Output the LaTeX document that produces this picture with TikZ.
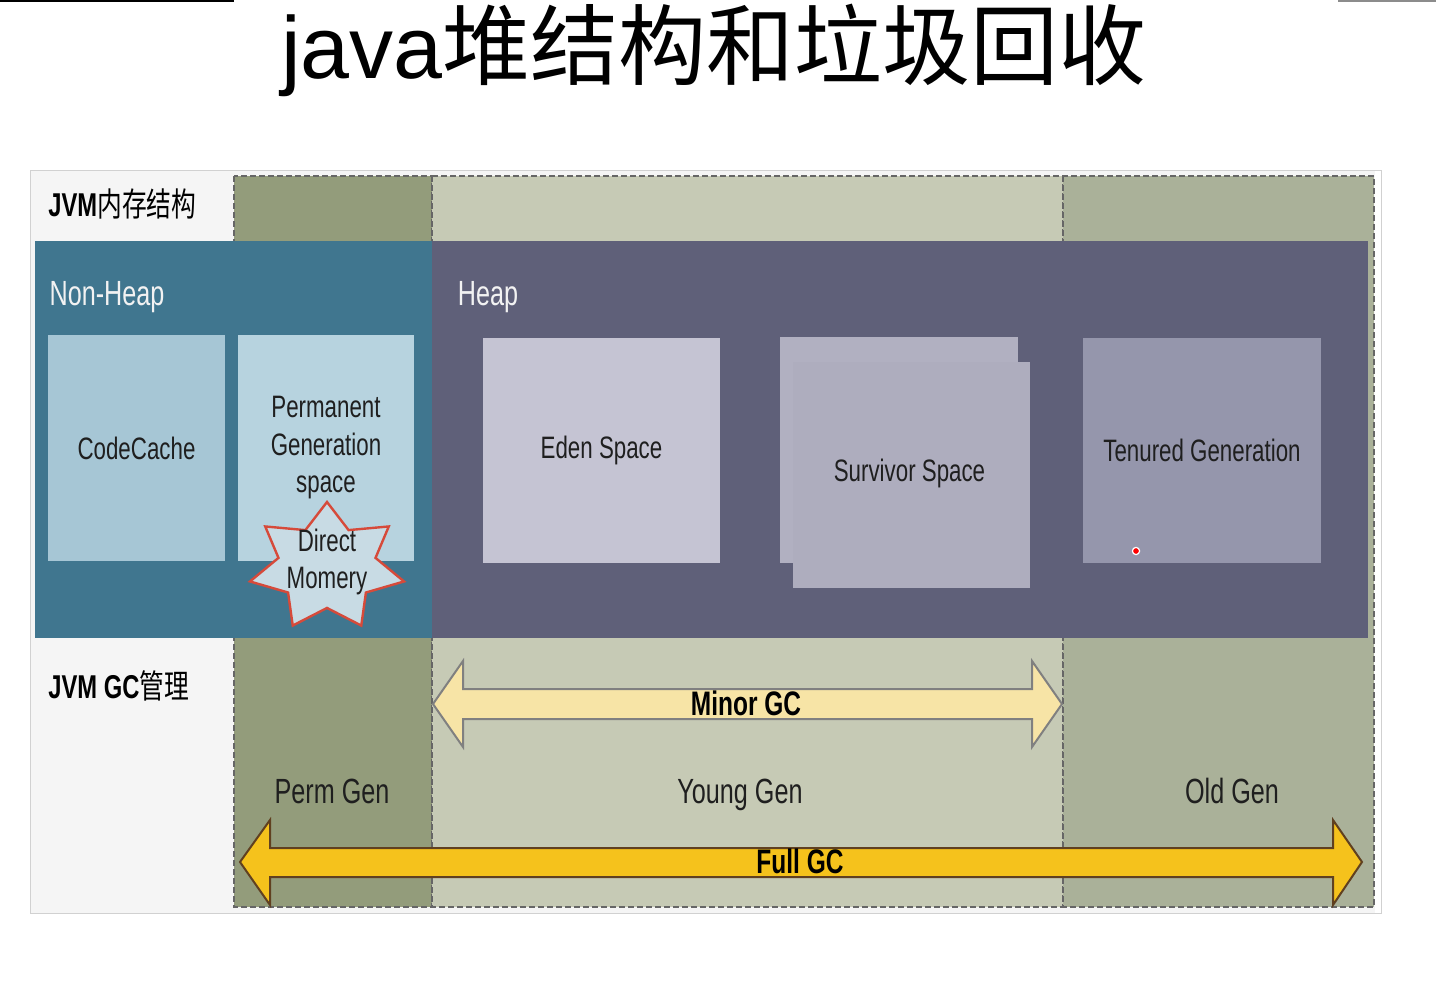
\documentclass[tikz,border=0pt]{standalone}
\usepackage{fontspec}
\setmainfont{Liberation Sans}[FakeStretch=0.72]
\newfontfamily\titlefont{Liberation Sans}
\newfontfamily\cjk{Noto Sans CJK SC}[FakeStretch=0.75]
\newfontfamily\titlecjk{Noto Sans CJK SC}
\usepackage{tikz}
\usetikzlibrary{fit}

\definecolor{permcol}{HTML}{939C7B}
\definecolor{youngcol}{HTML}{C6CAB5}
\definecolor{oldcol}{HTML}{AAB199}
\definecolor{nonheapcol}{HTML}{40768F}
\definecolor{heapcol}{HTML}{5F6079}
\definecolor{codecol}{HTML}{A6C6D5}
\definecolor{permboxcol}{HTML}{B7D3DF}
\definecolor{edencol}{HTML}{C5C4D3}
\definecolor{survcol}{HTML}{AEADBE}
\definecolor{tenurecol}{HTML}{9596AC}
\definecolor{starfill}{HTML}{C8DBE4}
\definecolor{starred}{HTML}{D64A3A}
\definecolor{minorfill}{HTML}{F7E4A6}
\definecolor{fullfill}{HTML}{F5C21C}

\tikzset{
  region/.style={draw=black!60, line width=1pt, dash pattern=on 3pt off 1.5pt},
  box/.style={inner sep=0pt, draw=none},
  space/.style={inner sep=0pt, text=black!88, align=center,
    font=\fontsize{15.5}{18.75}\selectfont},
  rowlabel/.style={anchor=west, inner sep=0pt, font=\fontsize{16.5}{20}\selectfont},
  genlabel/.style={anchor=base, inner sep=0pt, text=black!88, font=\fontsize{17.5}{21}\selectfont},
  gclabel/.style={inner sep=0pt, font=\bfseries\fontsize{17}{20}\selectfont},
}

\begin{document}
\begin{tikzpicture}[x=0.5pt,y=-0.5pt]
            \useasboundingbox (0,0) rectangle (1439,988);
            \fill[white] (0,0) rectangle (1439,988);
            \draw[line width=1pt] (0,1) -- (234,1);
            \draw[black!45,line width=1.5pt] (1338,1) -- (1436,1);

            \node[anchor=base, inner sep=0pt] (title) at (714,79)
              {\fontsize{44}{48}\selectfont\titlefont java\titlecjk 堆结构和垃圾回收};

            % frame and generations
            \filldraw[fill=black!4, draw=black!18] (30,170) rectangle (1381,913);
            \fill[white] (1375,171) rectangle (1381,913);
            \filldraw[region, fill=permcol] (234,176) rectangle (432,907);
            \filldraw[region, fill=youngcol] (432,176) rectangle (1063,907);
            \filldraw[region, fill=oldcol] (1063,176) rectangle (1374,907);

            % memory areas
            \fill[nonheapcol] (35,241) rectangle (432,638);
            \fill[heapcol] (432,241) rectangle (1368,638);

            \node[rowlabel] (jvmmem) at (48,204) {\bfseries JVM\mdseries\cjk 内存结构};
            \node[rowlabel] (jvmgc) at (48,686) {\bfseries JVM GC\mdseries\cjk 管理};
            \node[genlabel, text=white!95!black] (nonheap) at (107,306) {Non-Heap};
            \node[genlabel, text=white!95!black] (heap) at (488,306) {Heap};

            \node[box, fill=codecol, fit={(48,335) (225,561)}] (codecache) {};
            \node[box, fill=permboxcol, fit={(238,335) (414,561)}] (permspace) {};
            \node[box, fill=edencol, fit={(483,338) (720,563)}] (eden) {};
            \fill[survcol!96!white] (780,337) rectangle (1018,563);
            \node[box, fill=survcol, fit={(793,362) (1030,588)}] (survivor) {};
            \node[box, fill=tenurecol, fit={(1083,338) (1321,563)}] (tenured) {};

            \node[space] at (codecache.center) {CodeCache};
            \node[space] at (permspace.center) {Permanent\\Generation\\space};
            \node[space] at (eden.center) {Eden Space};
            \node[space] at ([xshift=-1pt,yshift=1pt]survivor.center) {Survivor Space};
            \node[space] at (tenured.center) {Tenured Generation};
            \filldraw[fill=red, draw=white, line width=0.6pt] (1136,551) circle (1.8pt);

            % direct memory star
            \filldraw[fill=starfill, draw=starred, line width=1.2pt, line join=miter]
              (327,502) \foreach \i in {1,...,13} {
                -- ({327+79*(1-0.37*mod(\i,2))*cos(90+\i*360/14)},
                    {567-65*(1-0.37*mod(\i,2))*sin(90+\i*360/14)})
              } -- cycle;
            \node[space] (direct) at (327,562) {Direct\\Momery};

            % gc arrows
            \filldraw[fill=minorfill, draw=black!50, line width=1pt]
              (433,704) -- (463,661) -- (463,689) -- (1032,689) -- (1032,661)
              -- (1062,704) -- (1032,747) -- (1032,719) -- (463,719) -- (463,747) -- cycle;
            \node[gclabel] (minor) at (746,703) {Minor GC};

            \filldraw[fill=fullfill, draw=black!50!brown, line width=1pt]
              (240,862) -- (270,820) -- (270,848) -- (1333,848) -- (1333,820)
              -- (1362,862) -- (1333,905) -- (1333,877) -- (270,877) -- (270,905) -- cycle;
            \node[gclabel] (full) at (800,861) {Full GC};

            \node[genlabel] (permgen) at (332,803) {Perm Gen};
            \node[genlabel] (younggen) at (740,803) {Young Gen};
            \node[genlabel] (oldgen) at (1232,803) {Old Gen};

        \end{tikzpicture}
\end{document}
